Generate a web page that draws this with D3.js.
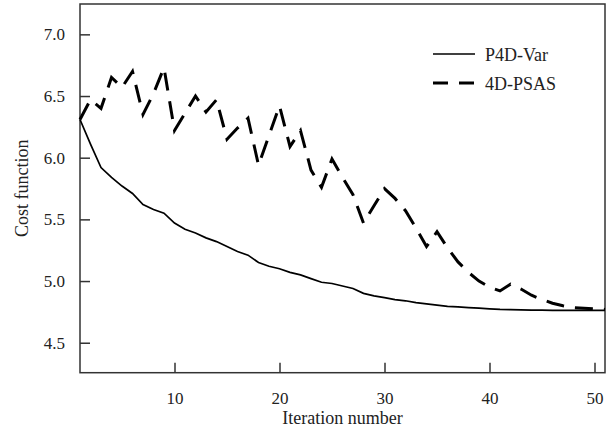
<!DOCTYPE html>
<html>
<head>
<meta charset="utf-8">
<script src="https://cdn.jsdelivr.net/npm/d3@7"></script>
<style>
  body { margin: 0; background: #fff; }
  svg text { font-family: "Liberation Serif", "Times New Roman", serif; fill: #222; }
</style>
</head>
<body>
<svg id="chart" width="615" height="434"></svg>
<script>
// Iteration numbers 1..51
const iterations = [1,2,3,4,5,6,7,8,9,10,11,12,13,14,15,16,17,18,19,20,21,22,23,24,25,26,
  27,28,29,30,31,32,33,34,35,36,37,38,39,40,41,42,43,44,45,46,47,48,49,50,51];

// P4D-Var cost function
const p4dVar = [6.31,6.11,5.92,5.84,5.77,5.71,5.62,5.58,5.55,5.47,5.42,5.39,5.35,5.32,5.28,5.24,
  5.21,5.15,5.12,5.10,5.07,5.05,5.02,4.99,4.98,4.96,4.94,4.90,4.88,4.865,4.85,4.84,4.825,4.815,
  4.805,4.795,4.79,4.785,4.78,4.775,4.77,4.768,4.766,4.765,4.764,4.763,4.763,4.762,4.762,4.762,4.762];

// 4D-PSAS cost function
const psas4d = [6.31,6.47,6.40,6.65,6.57,6.70,6.35,6.52,6.73,6.22,6.36,6.50,6.37,6.47,6.15,6.24,
  6.32,5.94,6.18,6.42,6.09,6.22,5.90,5.76,5.99,5.84,5.70,5.47,5.61,5.75,5.67,5.57,5.43,5.28,
  5.40,5.27,5.155,5.07,5.00,4.95,4.92,4.975,4.935,4.885,4.85,4.82,4.80,4.785,4.78,4.775,4.77];

const xTicks = [10, 20, 30, 40, 50];
const yTicks = [4.5, 5.0, 5.5, 6.0, 6.5, 7.0];
const seriesNames = ["P4D-Var", "4D-PSAS"];

const margin = { left: 80, right: 10, top: 4, bottom: 61.3 };
const width = 615, height = 434;
const drawWidth = width - margin.left - margin.right;
const drawHeight = height - margin.top - margin.bottom;

const svg = d3.select("#chart");
const g = svg.append("g").attr("transform", `translate(${margin.left},${margin.top})`);

const xScale = d3.scaleLinear().domain([1, 51]).range([0, drawWidth]);
const yScale = d3.scaleLinear().domain([4.257, 7.246]).range([drawHeight, 0]);

// Axes (ticks pointing inward)
const xAxis = d3.axisBottom(xScale).tickValues(xTicks).tickSize(-10).tickPadding(19)
  .tickFormat(d3.format("d"));
const yAxis = d3.axisLeft(yScale).tickValues(yTicks).tickSize(-10).tickPadding(15)
  .tickFormat(d3.format(".1f"));

const xg = g.append("g").attr("transform", `translate(0,${drawHeight})`).call(xAxis);
const yg = g.append("g").call(yAxis);
[xg, yg].forEach(a => {
  a.select(".domain").remove();
  a.selectAll(".tick line").attr("stroke", "#333").attr("stroke-width", 1.5);
  a.selectAll(".tick text").style("font-size", "17px").attr("fill", "#222");
});

// Frame
g.append("rect")
  .attr("x", 0).attr("y", 0)
  .attr("width", drawWidth).attr("height", drawHeight)
  .attr("fill", "none").attr("stroke", "#333").attr("stroke-width", 1.5);

// Lines
const line = d3.line()
  .x((d, i) => xScale(iterations[i]))
  .y(d => yScale(d));

g.append("path")
  .datum(p4dVar)
  .attr("fill", "none")
  .attr("stroke", "#000")
  .attr("stroke-width", 1.7)
  .attr("d", line);

g.append("path")
  .datum(psas4d)
  .attr("fill", "none")
  .attr("stroke", "#000")
  .attr("stroke-width", 3)
  .attr("stroke-dasharray", "18,11")
  .attr("d", line);

// Axis labels
svg.append("text")
  .attr("x", margin.left + drawWidth / 2)
  .attr("y", 424)
  .attr("text-anchor", "middle")
  .style("font-size", "18px")
  .text("Iteration number");

svg.append("text")
  .attr("transform", `translate(28,${margin.top + drawHeight / 2}) rotate(-90)`)
  .attr("text-anchor", "middle")
  .style("font-size", "18px")
  .text("Cost function");

// Legend
const legend = svg.append("g").attr("transform", "translate(433,54)");
seriesNames.forEach((name, i) => {
  const row = legend.append("g").attr("transform", `translate(0,${i * 29})`);
  row.append("line")
    .attr("x1", 0).attr("x2", 42).attr("y1", 0).attr("y2", 0)
    .attr("stroke", "#000")
    .attr("stroke-width", i === 0 ? 1.7 : 3)
    .attr("stroke-dasharray", i === 0 ? null : "15,11");
  row.append("text")
    .attr("x", 52).attr("y", 7)
    .style("font-size", "18px")
    .text(name);
});
</script>
</body>
</html>
